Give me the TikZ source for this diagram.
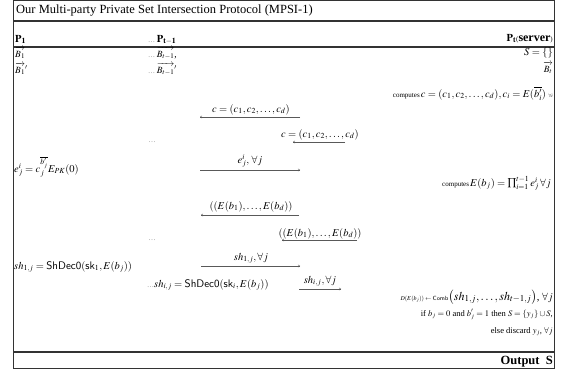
\documentclass[tikz,border=0pt]{standalone}
\usepackage{amsmath,amssymb}
\usepackage{mathptmx}
\usepackage[no-math]{fontspec}
\setmainfont{Liberation Serif}
\usetikzlibrary{arrows.meta,calc}

\newcommand{\fdots}{{\color{black!50}\scriptsize\ldots}}

\begin{document}
\begin{tikzpicture}[x=1pt,y=-1pt,
	txt/.style={inner sep=0pt,font=\fontsize{10.5}{12}\selectfont},
	lft/.style={txt,anchor=base west},
	rgt/.style={txt,anchor=base east},
	lbl/.style={txt,anchor=base},
	vrow/.style={font=\fontsize{9.5}{11}\selectfont},
	msg/.style={draw=black!65,line width=0.4pt,-{To[length=2.2pt,width=2.6pt]}},
	rule/.style={draw=black!80}]
		\useasboundingbox (0,0) rectangle (562,372);
		\draw[rule,line width=0.9pt] (13,0.6) rectangle (554,368);
		\node[lft,font=\fontsize{12.5}{14}\selectfont] (title) at (16,13) {Our Multi-party Private Set Intersection Protocol (MPSI-1)};
		\draw[rule,line width=1.5pt] (13,21) -- (554,21);
		\node[lft] (P1) at (15,42) {$\mathbf{P_1}$};
		\node[lft] (Pt1) at (148,42) {\fdots\,$\mathbf{P_{t-1}}$};
		\node[rgt] (Pt) at (553,41) {$\mathbf{P_t}${\scriptsize(}{\fontsize{12}{14}\selectfont\textbf{server}}{\scriptsize)}};
		\draw[rule,line width=1.1pt] (13,47) -- (554,47);
		\node[lft,vrow] (B1) at (15,57) {$\overrightarrow{B_1}$};
		\node[lft,vrow] (Bt1) at (148,57) {\fdots\,$\overrightarrow{B_{t-1}}$,};
		\node[rgt] (S) at (553,55) {$S=\{\}$};
		\node[lft,vrow] (B1p) at (15,73) {$\overrightarrow{B_1}'$};
		\node[lft,vrow] (Bt1p) at (148,73) {\fdots\,$\overrightarrow{B_{t-1}}'$};
		\node[rgt,vrow] (Bt) at (553,72) {$\overrightarrow{B_t}$};
		\node[rgt] (compc) at (553,97) {{\fontsize{7}{8}\selectfont computes}$\,c=(c_1,c_2,\ldots,c_d),c_i=E(\overline{b_i'})$ {\tiny$\forall i$}};
		\node[lbl] (m1) at (251,112) {$c=(c_1,c_2,\ldots,c_d)$};
		\coordinate (m1a) at (300,117);
		\coordinate (m1b) at (200,117);
		\draw[msg] (m1a) -- (m1b);
		\node[lbl] (m2) at (320,137) {$c=(c_1,c_2,\ldots,c_d)$};
		\coordinate (m2a) at (345,142);
		\coordinate (m2b) at (293,142);
		\draw[msg] (m2a) -- (m2b);
		\node[txt] (d1) at (152,142) {\fdots};
		\node[lft] (ej) at (14,172) {$e^i_j=c_j^{\overline{b'_j}}E_{PK}(0)$};
		\node[lbl] (m3) at (250,163) {$e^i_j,\,\forall j$};
		\coordinate (m3a) at (200,170);
		\coordinate (m3b) at (300,170);
		\draw[msg] (m3a) -- (m3b);
		\node[rgt] (compe) at (551,186) {{\fontsize{7}{8}\selectfont computes}$\,E(b_j)=\prod_{i=1}^{t-1}e^i_j\,\forall j$};
		\node[lbl] (m4) at (251,209) {$((E(b_1),\ldots,E(b_d))$};
		\coordinate (m4a) at (299,215);
		\coordinate (m4b) at (201,215);
		\draw[msg] (m4a) -- (m4b);
		\node[lbl] (m5) at (320,236) {$((E(b_1),\ldots,E(b_d))$};
		\coordinate (m5a) at (357,240);
		\coordinate (m5b) at (282,240);
		\draw[msg] (m5a) -- (m5b);
		\node[txt] (d2) at (152,240) {\fdots};
		\node[lft] (sh1) at (14,269) {$sh_{1,j}=\mathsf{ShDec0}(\mathsf{sk}_1,E(b_j))$};
		\node[lbl] (m6) at (251,260) {$sh_{1,j},\forall j$};
		\coordinate (m6a) at (201,266);
		\coordinate (m6b) at (300,266);
		\draw[msg] (m6a) -- (m6b);
		\node[lft] (shi) at (147,287) {\fdots$sh_{i,j}=\mathsf{ShDec0}(\mathsf{sk}_i,E(b_j))$};
		\node[lbl] (m7) at (320,283) {$sh_{i,j},\forall j$};
		\coordinate (m7a) at (299,289);
		\coordinate (m7b) at (341,289);
		\draw[msg] (m7a) -- (m7b);
		\node[rgt] (comb) at (553,300) {{\fontsize{6}{7}\selectfont$D(E(b_j))\leftarrow\mathsf{Comb}$}{\fontsize{12}{14}\selectfont$\big(sh_{1,j},\ldots,sh_{t-1,j}\big)$}, $\forall j$};
		\node[rgt,font=\fontsize{8.5}{10}\selectfont] (ifb) at (553,316) {if $b_j=0$ and $b'_j=1$ then $S=\{y_j\}\cup S$,};
		\node[rgt,font=\fontsize{8.5}{10}\selectfont] (disc) at (553,333) {else discard $y_j$, $\forall j$};
		\draw[rule,line width=1.5pt] (13,352) -- (554,352);
		\node[rgt,font=\fontsize{12.5}{14}\selectfont] (out) at (553,364) {\textbf{Output\ \ S}};
	\end{tikzpicture}
\end{document}
